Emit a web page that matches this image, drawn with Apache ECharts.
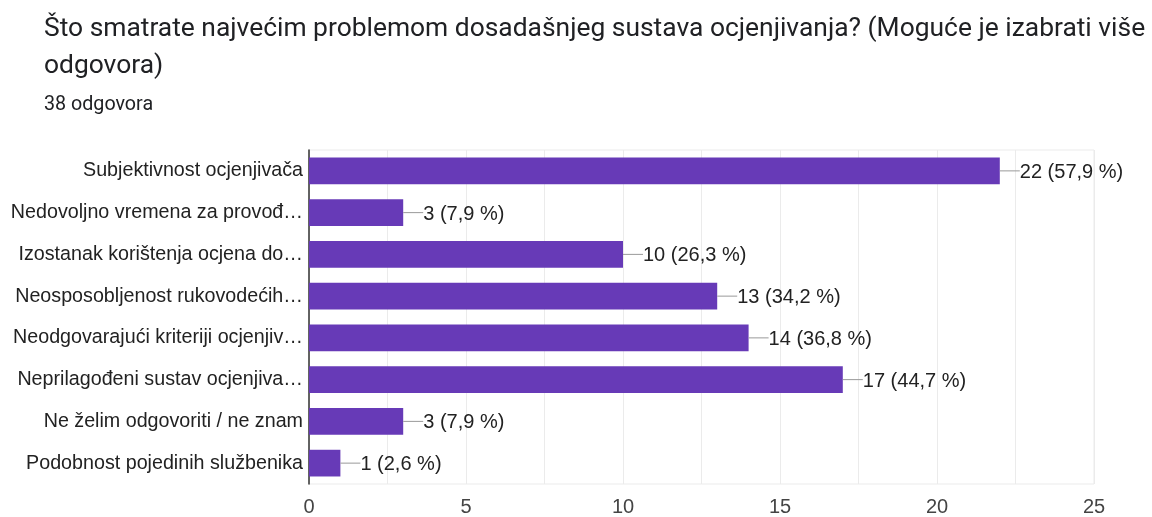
<!DOCTYPE html>
<html><head><meta charset="utf-8">
<script src="https://cdn.jsdelivr.net/npm/echarts@6/dist/echarts.min.js"></script>
<style>html,body{margin:0;padding:0;background:#fff}#c{width:1152px;height:517px}</style>
</head><body><div id="c"></div>
<script>
const titleText = 'Što smatrate najvećim problemom dosadašnjeg sustava ocjenjivanja? (Moguće je izabrati više\nodgovora)';
const subtitleText = '38 odgovora';
const categories = ['Subjektivnost ocjenjivača','Nedovoljno vremena za provođ…','Izostanak korištenja ocjena do…','Neosposobljenost rukovodećih…','Neodgovarajući kriteriji ocjenjiv…','Neprilagođeni sustav ocjenjiva…','Ne želim odgovoriti / ne znam','Podobnost pojedinih službenika'];
const counts = [22,3,10,13,14,17,3,1];
const percents = ['57,9','7,9','26,3','34,2','36,8','44,7','7,9','2,6'];
const xTicks = [0,5,10,15,20,25];

const chart = echarts.init(document.getElementById('c'));
chart.setOption({
  animation:false,
  title:[
    {text:titleText,left:44,top:11,padding:0,textStyle:{fontFamily:'Roboto',fontSize:26.4,fontWeight:'normal',color:'#202124',lineHeight:37}},
    {text:subtitleText,left:44,top:95,padding:0,textStyle:{fontFamily:'Roboto',fontSize:19.7,fontWeight:'normal',color:'#202124'}}
  ],
  grid:{left:309,right:58,top:150,bottom:30,show:true,borderColor:'#ebebeb',borderWidth:1},
  xAxis:{type:'value',min:xTicks[0],max:xTicks[xTicks.length-1],interval:5,
    axisLine:{show:false},axisTick:{show:false},
    axisLabel:{fontFamily:'Liberation Sans',fontSize:20,color:'#444',margin:13},
    splitLine:{lineStyle:{color:'#ebebeb'}},
    minorTick:{show:false,splitNumber:2},
    minorSplitLine:{show:true,lineStyle:{color:'#ebebeb'}}},
  yAxis:{type:'category',data:categories,inverse:true,
    axisLine:{show:true,lineStyle:{color:'#333',width:1.5}},axisTick:{show:false},
    axisLabel:{fontFamily:'Liberation Sans',fontSize:19.7,color:'#222',margin:6,padding:[3,0,0,0]}},
  series:[{type:'bar',data:counts,barWidth:'64%',itemStyle:{color:'#673ab7'},
    label:{show:true,position:'right',distance:0,
      formatter:p=>'{l|}{v|'+counts[p.dataIndex]+' ('+percents[p.dataIndex]+' %)}',
      rich:{l:{width:20,height:1,backgroundColor:'#999'},
            v:{fontFamily:'Liberation Sans',fontSize:20,color:'#222',padding:[3,0,0,0]}}}}]
});
</script></body></html>
